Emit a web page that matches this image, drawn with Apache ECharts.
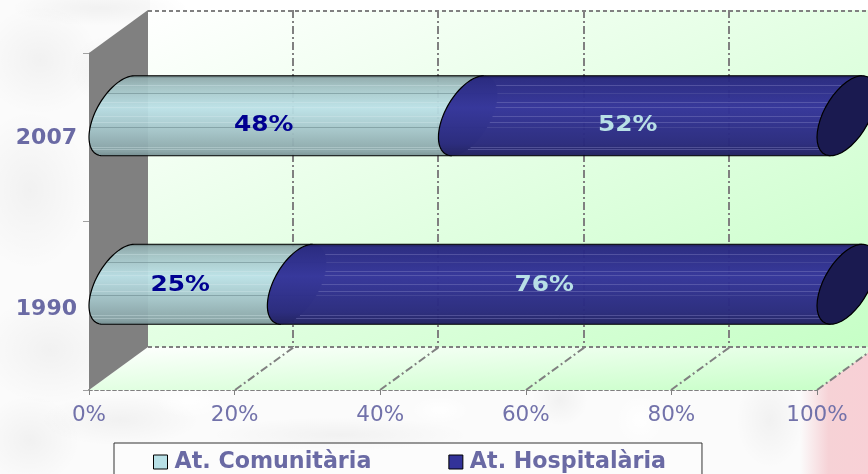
<!DOCTYPE html>
<html>
<head>
<meta charset="utf-8">
<style>html,body{margin:0;padding:0;background:#fbfbfb;overflow:hidden}#chart{width:868px;height:474px}</style>
<script src="https://cdn.jsdelivr.net/npm/echarts@6/dist/echarts.min.js"></script>
</head>
<body>
<div id="chart"></div>
<script>
var categories = ['1990', '2007'];
var comunitaria = [24.5, 48];
var hospitalaria = [75.5, 52];
var xTicks = [0, 20, 40, 60, 80, 100];

var DX = 59, DY = 43;
var A = DX / 2, B = DY / 2, K = 40;
var R = Math.sqrt(K * K - B * B);
var PHI = Math.atan2(B, R);
var STRIPES = [[0.12, 1], [0.22, 0], [0.33, 1], [0.39, 1], [0.5, 1], [0.58, 1], [0.64, 0], [0.89, 1], [0.92, 1]];
// the data labels do not sit at the same height in both rows
var LABEL_SHIFT = [[2, -20], [0, -12]];
var LINE_GREY = '#808080';
var TEXT_COL = '#6a6aa4';

function linear(x0, y0, x1, y1, stops) {
  return new echarts.graphic.LinearGradient(x0, y0, x1, y1, stops);
}

// white to green running corner to corner of a box, bands parallel to its other diagonal
function cornerGradient(x, y, w, h) {
  var f = 2 * w * h / (w * w + h * h);
  return new echarts.graphic.LinearGradient(x, y, x + h * f, y + w * f, [
    { offset: 0, color: '#ffffff' }, { offset: 1, color: '#c6ffc6' }
  ], true);
}

function ellipsePt(cx, cy, t) {
  return [cx + A * Math.cos(t), cy - B * Math.cos(t) + R * Math.sin(t)];
}

function arc(cx, cy, from, to) {
  var pts = [];
  for (var i = 0; i <= 40; i++) pts.push(ellipsePt(cx, cy, from + (to - from) * i / 40));
  return pts;
}

function rightX(cx, d) { return cx + A * Math.cos(PHI + Math.asin(d / K)); }
function leftX(cx, d) { return cx + A * Math.cos(PHI + Math.PI - Math.asin(d / K)); }

function renderWalls(params, api) {
  var cs = params.coordSys;
  var l = cs.x, r = cs.x + cs.width, t = cs.y, b = cs.y + cs.height;
  var dash = { stroke: LINE_GREY, lineWidth: 2, lineDash: [4, 3], fill: null };
  return {
    type: 'group',
    children: [
      { type: 'polygon', shape: { points: [[l + DX, t - DY], [r + DX, t - DY], [r + DX, b - DY], [l + DX, b - DY]] },
        style: { fill: cornerGradient(l + DX, t - DY, r - l, b - t) } },
      { type: 'polygon', shape: { points: [[l, b], [l + DX, b - DY], [r + DX, b - DY], [r, b]] },
        style: { fill: cornerGradient(l, b - DY, r - l + DX, DY) } },
      { type: 'polygon', shape: { points: [[l, t], [l + DX, t - DY], [l + DX, b - DY], [l, b]] },
        style: { fill: '#808080' } },
      { type: 'line', shape: { x1: l + DX, y1: t - DY + 1, x2: r + DX, y2: t - DY + 1 }, style: dash },
      { type: 'line', shape: { x1: l + DX, y1: b - DY, x2: r + DX, y2: b - DY }, style: dash }
    ]
  };
}

function renderGrid(params, api) {
  var p = api.coord([api.value(0), 0]);
  var cs = params.coordSys;
  var t = cs.y, b = cs.y + cs.height;
  var x = Math.round(p[0]);
  var style = { stroke: LINE_GREY, lineWidth: 2, lineDash: [8, 3, 2, 3], fill: null };
  var children = [];
  if (api.value(0) > 0) {
    children.push({ type: 'line', shape: { x1: x, y1: b, x2: x + DX, y2: b - DY }, style: style });
    children.push({ type: 'line', shape: { x1: x + DX - 1, y1: t - DY, x2: x + DX - 1, y2: b - DY }, style: style });
  }
  return { type: 'group', children: children };
}

function barRenderer(palette, isLast) {
  return function (params, api) {
    var cat = api.value(2);
    var p0 = api.coord([api.value(0), cat]);
    var p1 = api.coord([api.value(1), cat]);
    var x0 = p0[0] + DX / 2, x1 = p1[0] + DX / 2, cy = p0[1] - DY / 2;
    var tTop = PHI - Math.PI / 2, tBot = PHI + Math.PI / 2;
    var leftArc = arc(x0, cy, tBot, tTop + 2 * Math.PI);
    var rightArc = arc(x1, cy, tTop, tBot);
    var shift = LABEL_SHIFT[cat];
    var children = [{
      type: 'polygon',
      shape: { points: leftArc.concat(rightArc) },
      style: { fill: linear(0, 0, 0, 1, palette.stops), opacity: palette.opacity }
    }];
    STRIPES.forEach(function (s) {
      var y = Math.round(cy - K + 2 * K * s[0]) + 0.5;
      var d = y - cy;
      var sx = isLast ? rightX(x0, d) : leftX(x0, d);
      var ex = isLast ? leftX(x1, d) : rightX(x1, d);
      children.push({
        type: 'line',
        shape: { x1: sx, y1: y, x2: ex, y2: y },
        style: { stroke: s[1] ? palette.lightLine : palette.darkLine, lineWidth: 1 }
      });
    });
    // outline runs round the open end only, the far end sits under the next segment
    children.push({
      type: 'polyline',
      shape: { points: [ellipsePt(x1, cy, tBot)].concat(leftArc, [ellipsePt(x1, cy, tTop)]) },
      style: { stroke: '#000', lineWidth: 1.2, fill: null }
    });
    if (isLast) {
      children.push({
        type: 'polygon',
        shape: { points: arc(x1, cy, 0, 2 * Math.PI) },
        style: { fill: '#1a1a50', stroke: '#000', lineWidth: 1.2 }
      });
    }
    children.push({
      type: 'text',
      x: (p0[0] + p1[0]) / 2 + shift[0],
      y: p0[1] + shift[1],
      scaleX: 1.13,
      style: {
        text: Math.round(api.value(1) - api.value(0)) + '%',
        fill: palette.label,
        font: 'bold 22px "DejaVu Sans"',
        align: 'center',
        verticalAlign: 'middle'
      }
    });
    return { type: 'group', children: children };
  };
}

function stackData() {
  var rows = [[], []];
  categories.forEach(function (c, i) {
    var split = comunitaria[i];
    rows[0].push([0, split, i]);
    rows[1].push([split, split + hospitalaria[i], i]);
  });
  return rows;
}

function blob(x, y, rx, ry, color) {
  return {
    type: 'circle', x: x, y: y, scaleX: rx / 50, scaleY: ry / 50, shape: { r: 50 }, silent: true,
    style: { fill: new echarts.graphic.RadialGradient(0.5, 0.5, 0.5, [
      { offset: 0, color: color }, { offset: 1, color: color.replace(/[\d.]+\)$/, '0)') }
    ]) }
  };
}

var grey = 'rgba(0,0,0,0.04)';
var white = 'rgba(255,255,255,0.9)';
var background = [
  { type: 'rect', shape: { x: 0, y: 0, width: 868, height: 474 }, silent: true, style: { fill: '#fbfbfb' } },
  { type: 'rect', shape: { x: 150, y: 0, width: 718, height: 12 }, silent: true, style: { fill: '#ffffff' } },
  blob(100, 8, 90, 18, grey), blob(40, 60, 60, 55, grey), blob(110, 70, 40, 35, grey),
  blob(30, 190, 60, 80, grey), blob(50, 350, 70, 55, grey), blob(30, 440, 50, 45, grey),
  blob(120, 420, 80, 26, grey), blob(340, 435, 130, 18, grey), blob(190, 400, 35, 18, white),
  blob(560, 400, 28, 26, grey), blob(640, 420, 25, 26, white), blob(770, 420, 34, 48, grey),
  blob(440, 410, 30, 14, white),
  { type: 'rect', shape: { x: 800, y: 340, width: 68, height: 134 }, silent: true,
    style: { fill: linear(0, 0, 1, 0, [{ offset: 0, color: 'rgba(246,210,214,0)' }, { offset: 0.42, color: 'rgba(246,210,214,1)' }, { offset: 1, color: 'rgba(248,208,214,1)' }]) } }
];

var rows = stackData();
var chart = echarts.init(document.getElementById('chart'), null, { renderer: 'canvas' });
chart.setOption({
  animation: false,
  graphic: { elements: background },
  grid: { left: 89, right: 51, top: 53, bottom: 84, containLabel: false },
  xAxis: {
    type: 'value', min: 0, max: 100, interval: 20,
    splitLine: { show: false },
    axisLine: { show: true, lineStyle: { color: LINE_GREY, width: 2, type: [3, 3] } },
    axisTick: { show: true, length: 5, lineStyle: { color: LINE_GREY, width: 1 } },
    axisLabel: { margin: 14, color: '#7272aa', fontFamily: 'DejaVu Sans', fontSize: 21.5, formatter: '{value}%' }
  },
  yAxis: {
    type: 'category', data: categories,
    axisLine: { show: true, lineStyle: { color: '#c0c0c0', width: 1 } },
    axisTick: { show: true, length: 6, lineStyle: { color: '#a0a0a0', width: 1 } },
    axisLabel: { margin: 12, color: TEXT_COL, fontFamily: 'DejaVu Sans', fontWeight: 'bold', fontSize: 22,
      formatter: function (v) { return v === '1990' ? '{low|' + v + '}' : '{mid|' + v + '}'; },
      rich: {
        low: { color: TEXT_COL, fontFamily: 'DejaVu Sans', fontWeight: 'bold', fontSize: 22, padding: [7, 0, 0, 0] },
        mid: { color: TEXT_COL, fontFamily: 'DejaVu Sans', fontWeight: 'bold', fontSize: 22, padding: [3, 0, 0, 0] }
      } }
  },
  legend: {
    left: 114, top: 443,
    padding: [8, 36, 20, 39],
    itemGap: 77, itemWidth: 14, itemHeight: 14,
    backgroundColor: 'rgba(255,255,255,0.35)',
    borderColor: '#333', borderWidth: 1,
    selectedMode: false,
    textStyle: { color: TEXT_COL, fontFamily: 'DejaVu Sans', fontWeight: 'bold', fontSize: 22.2, padding: [1, 0, 0, 2] },
    data: [
      { name: 'At. Comunitària', icon: 'rect', itemStyle: { color: '#b8e0e6', borderColor: '#000', borderWidth: 1 } },
      { name: 'At. Hospitalària', icon: 'rect', itemStyle: { color: '#333399', borderColor: '#000', borderWidth: 1 } }
    ]
  },
  series: [
    { type: 'custom', name: 'walls', silent: true, renderItem: renderWalls, data: [[0]], clip: false, encode: { x: 0 } },
    { type: 'custom', name: 'grid', silent: true, renderItem: renderGrid, data: xTicks.map(function (v) { return [v]; }), encode: { x: 0 } },
    {
      type: 'custom', name: 'At. Comunitària', silent: true,
      renderItem: barRenderer({
        opacity: 0.95,
        stops: [{ offset: 0, color: '#566a6a' }, { offset: 0.03, color: '#90abad' }, { offset: 0.15, color: '#a4c4c6' }, { offset: 0.4, color: '#bbe1e7' }, { offset: 0.7, color: '#a2c2c6' }, { offset: 0.95, color: '#88a3a6' }, { offset: 1, color: '#769093' }],
        lightLine: 'rgba(215,235,238,0.35)', darkLine: 'rgba(90,120,125,0.45)', label: '#000090'
      }, false),
      data: rows[0], encode: { x: [0, 1], y: 2 }
    },
    {
      type: 'custom', name: 'At. Hospitalària', silent: true,
      renderItem: barRenderer({
        opacity: 0.97,
        stops: [{ offset: 0, color: '#1a1a55' }, { offset: 0.04, color: '#282880' }, { offset: 0.4, color: '#333399' }, { offset: 0.85, color: '#29297c' }, { offset: 1, color: '#20205f' }],
        lightLine: 'rgba(125,125,190,0.45)', darkLine: 'rgba(110,110,175,0.3)', label: '#b8e0e6'
      }, true),
      data: rows[1], encode: { x: [0, 1], y: 2 }
    }
  ]
});
</script>
</body>
</html>
